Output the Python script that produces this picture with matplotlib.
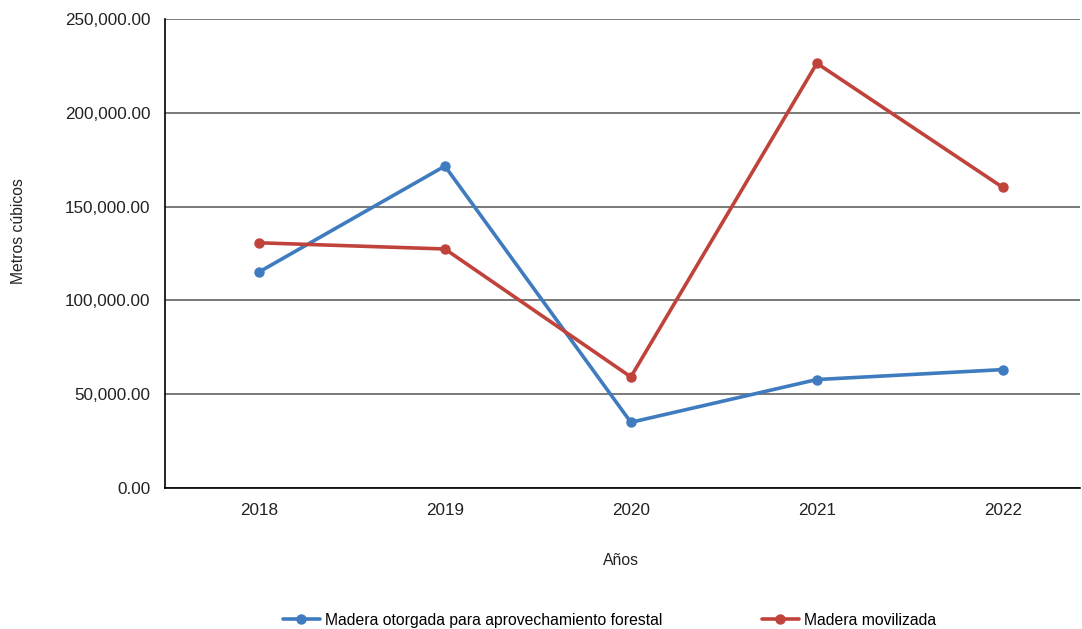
import matplotlib
matplotlib.use('Agg')
import matplotlib.pyplot as plt
from matplotlib.ticker import FuncFormatter

years = ['2018', '2019', '2020', '2021', '2022']
madera_otorgada = [115100, 171600, 35000, 57800, 63100]
madera_movilizada = [130700, 127400, 59200, 226400, 160200]

plt.rcParams['font.family'] = ['Liberation Sans', 'DejaVu Sans']
plt.rcParams['font.size'] = 11

COLORS = {
    'blue': '#3F7CBF',
    'red': '#C0433B',
    'grid': '#555555',
}

fig = plt.figure(figsize=(10.82, 6.29), dpi=100)
ax = fig.add_axes([0.1525, 0.2242, 0.8455, 0.7456])

x = range(len(years))
ax.plot(x, madera_otorgada, color=COLORS['blue'], lw=2.6, marker='o', ms=6.5,
        label='Madera otorgada para aprovechamiento forestal', solid_capstyle='round')
ax.plot(x, madera_movilizada, color=COLORS['red'], lw=2.6, marker='o', ms=6.5,
        label='Madera movilizada', solid_capstyle='round')

ax.set_ylim(0, 250000)
ax.set_yticks(range(0, 250001, 50000))
ax.yaxis.set_major_formatter(FuncFormatter(lambda v, p: f'{v:,.2f}'))
ax.set_xticks(list(x))
ax.set_xticklabels(years)
ax.set_xlim(-0.505, 4.414)

ax.grid(axis='y', color=COLORS['grid'], lw=1.1)
ax.set_axisbelow(True)
ax.tick_params(length=0, labelsize=12.3, labelcolor='#222222')
ax.tick_params(axis='y', pad=10.5)
ax.tick_params(axis='x', pad=11)
for s in ['top', 'right']:
    ax.spines[s].set_visible(False)
ax.spines['left'].set_color('black')
ax.spines['bottom'].set_color('black')
ax.spines['left'].set_linewidth(1.2)
ax.spines['bottom'].set_linewidth(1.2)

fig.text(0.0175, 0.632, 'Metros cúbicos', rotation=90, ha='center', va='center',
         fontsize=11.3, color='#222222')
fig.text(0.574, 0.109, 'Años', ha='center', va='center', fontsize=11.3, color='#222222')

fig.legend(loc='center', bbox_to_anchor=(0.5633, 0.014), ncol=2, frameon=False,
           handlelength=2.36, columnspacing=6.3, fontsize=11.3, handletextpad=0.35)

fig.savefig('out.png', dpi=100, facecolor='white')
